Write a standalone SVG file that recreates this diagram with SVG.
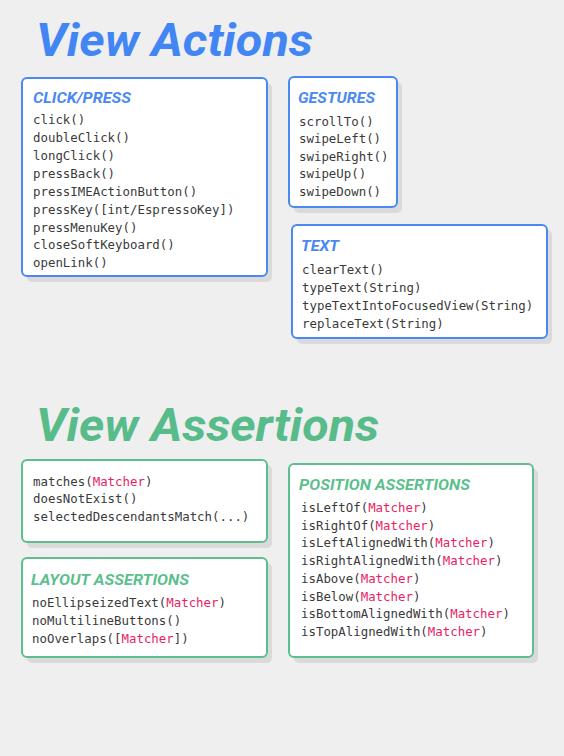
<svg xmlns="http://www.w3.org/2000/svg" width="564" height="756" viewBox="0 0 564 756">
<style>
.title{font-family:Roboto,"Liberation Sans",sans-serif;font-weight:bold;font-style:italic;font-size:46px}
.hd{font-family:Roboto,"Liberation Sans",sans-serif;font-weight:bold;font-style:italic;font-size:15px}
.code{font-family:"DejaVu Sans Mono","Liberation Mono",monospace;font-size:12.4px;fill:#3a3a3a}
.m{fill:#e91e63}
.shadow{fill:#dadada}
.card{fill:#ffffff;stroke-width:2}
.blue .card{stroke:#4a88f2}
.blue .hd{fill:#4a88f2}
.green .card{stroke:#5cbf8d}
.green .hd{fill:#5cbf8d}
</style>
<rect width="564" height="756" fill="#efefef"/>
<text class="title" x="36" y="56" fill="#4286f4" textLength="277" lengthAdjust="spacingAndGlyphs">View Actions</text>
<text class="title" x="36" y="441" fill="#57bb8a" textLength="343" lengthAdjust="spacingAndGlyphs">View Assertions</text>
<g id="click-press" class="blue">
<rect class="shadow" x="27" y="83" width="245" height="199" rx="5"/>
<rect class="card" x="22" y="78" width="245" height="198" rx="5"/>
<text class="hd" x="33" y="103" textLength="98" lengthAdjust="spacingAndGlyphs">CLICK/PRESS</text>
<text class="code" x="33" y="124">click()</text>
<text class="code" x="33" y="142">doubleClick()</text>
<text class="code" x="33" y="160">longClick()</text>
<text class="code" x="33" y="178">pressBack()</text>
<text class="code" x="33" y="196">pressIMEActionButton()</text>
<text class="code" x="33" y="213.5">pressKey([int/EspressoKey])</text>
<text class="code" x="33" y="231.5">pressMenuKey()</text>
<text class="code" x="33" y="249">closeSoftKeyboard()</text>
<text class="code" x="33" y="267">openLink()</text>
</g>
<g id="gestures" class="blue">
<rect class="shadow" x="294" y="82" width="108" height="131" rx="5"/>
<rect class="card" x="289" y="77" width="108" height="130" rx="5"/>
<text class="hd" x="298" y="103" textLength="77" lengthAdjust="spacingAndGlyphs">GESTURES</text>
<text class="code" x="299" y="125.5">scrollTo()</text>
<text class="code" x="299" y="143">swipeLeft()</text>
<text class="code" x="299" y="160.7">swipeRight()</text>
<text class="code" x="299" y="178.3">swipeUp()</text>
<text class="code" x="299" y="196">swipeDown()</text>
</g>
<g id="text" class="blue">
<rect class="shadow" x="297" y="230" width="255" height="114" rx="5"/>
<rect class="card" x="292" y="225" width="255" height="113" rx="5"/>
<text class="hd" x="301" y="251" textLength="38" lengthAdjust="spacingAndGlyphs">TEXT</text>
<text class="code" x="302" y="274">clearText()</text>
<text class="code" x="302" y="292">typeText(String)</text>
<text class="code" x="302" y="309.5">typeTextIntoFocusedView(String)</text>
<text class="code" x="302" y="327.5">replaceText(String)</text>
</g>
<g id="general-assertions" class="green">
<rect class="shadow" x="27" y="465" width="245" height="83" rx="5"/>
<rect class="card" x="22" y="460" width="245" height="82" rx="5"/>
<text class="code" x="33" y="485.7">matches(<tspan class="m">Matcher</tspan>)</text>
<text class="code" x="33" y="503.3">doesNotExist()</text>
<text class="code" x="33" y="521.3">selectedDescendantsMatch(...)</text>
</g>
<g id="layout-assertions" class="green">
<rect class="shadow" x="27" y="563" width="245" height="100" rx="5"/>
<rect class="card" x="22" y="558" width="245" height="99" rx="5"/>
<text class="hd" x="31" y="584.5" textLength="158" lengthAdjust="spacingAndGlyphs">LAYOUT ASSERTIONS</text>
<text class="code" x="32" y="606.7">noEllipseizedText(<tspan class="m">Matcher</tspan>)</text>
<text class="code" x="32" y="624.7">noMultilineButtons()</text>
<text class="code" x="32" y="642.7">noOverlaps([<tspan class="m">Matcher</tspan>])</text>
</g>
<g id="position-assertions" class="green">
<rect class="shadow" x="294" y="469" width="244" height="194" rx="5"/>
<rect class="card" x="289" y="464" width="244" height="193" rx="5"/>
<text class="hd" x="299" y="490" textLength="171" lengthAdjust="spacingAndGlyphs">POSITION ASSERTIONS</text>
<text class="code" x="301" y="511.7">isLeftOf(<tspan class="m">Matcher</tspan>)</text>
<text class="code" x="301" y="529.7">isRightOf(<tspan class="m">Matcher</tspan>)</text>
<text class="code" x="301" y="547.3">isLeftAlignedWith(<tspan class="m">Matcher</tspan>)</text>
<text class="code" x="301" y="565">isRightAlignedWith(<tspan class="m">Matcher</tspan>)</text>
<text class="code" x="301" y="583">isAbove(<tspan class="m">Matcher</tspan>)</text>
<text class="code" x="301" y="600.7">isBelow(<tspan class="m">Matcher</tspan>)</text>
<text class="code" x="301" y="618.3">isBottomAlignedWith(<tspan class="m">Matcher</tspan>)</text>
<text class="code" x="301" y="636">isTopAlignedWith(<tspan class="m">Matcher</tspan>)</text>
</g>
<g id="connectors"/>
</svg>
